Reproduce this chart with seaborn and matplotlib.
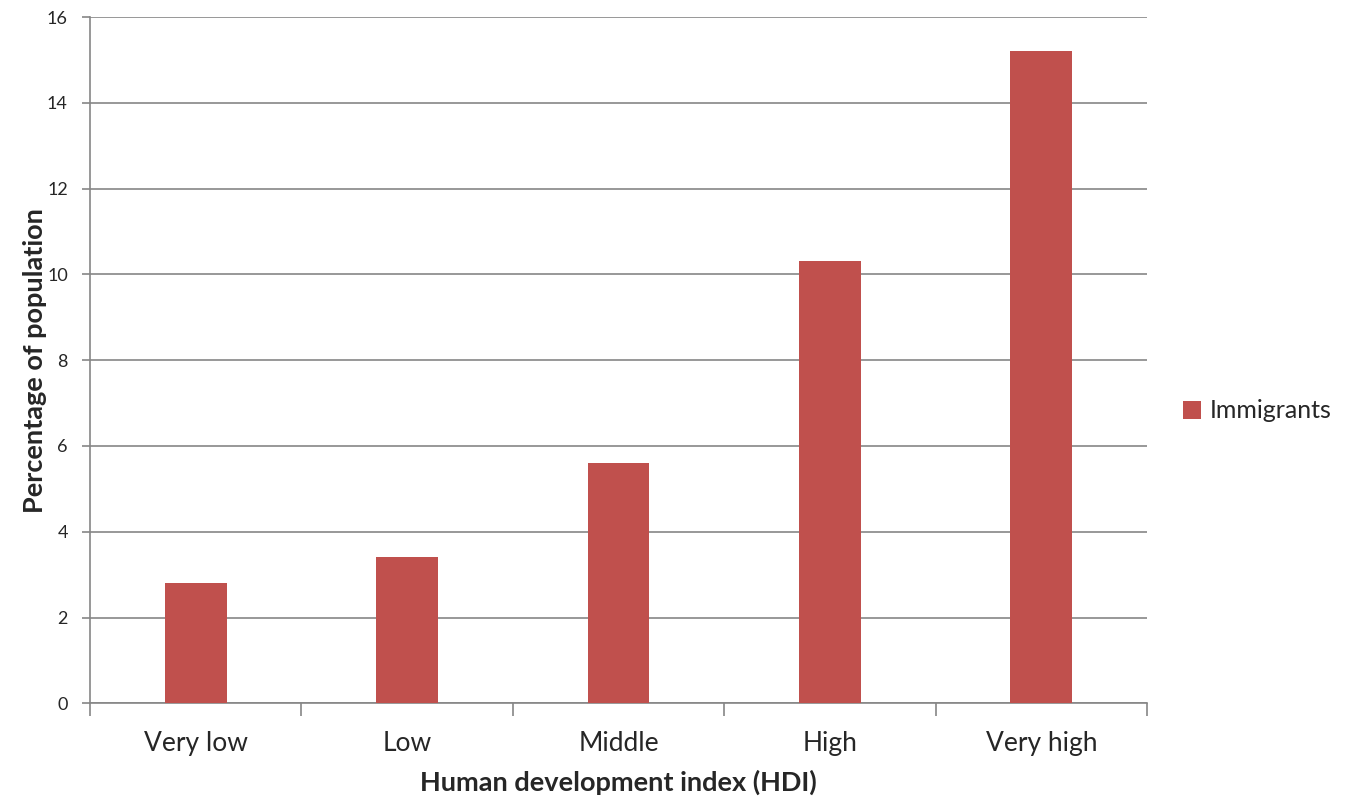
import matplotlib
matplotlib.use("Agg")
import matplotlib.pyplot as plt
import seaborn as sns
import pandas as pd

#Data
hdi_groups = ["Very low", "Low", "Middle", "High", "Very high"]
immigrants = [2.8, 3.4, 5.6, 10.3, 15.2]
y_ticks = [0, 2, 4, 6, 8, 10, 12, 14, 16]

df = pd.DataFrame({"HDI": hdi_groups, "Immigrants": immigrants})

sns.set_style("white")
plt.rcParams["font.family"] = ["Lato", "DejaVu Sans"]

W, H = 1348, 801
fig = plt.figure(figsize=(W / 100, H / 100), dpi=100)
ax = fig.add_axes([90 / W, (H - 703.3) / H, (1147 - 90) / W, (703.3 - 17) / H])

sns.barplot(data=df, x="HDI", y="Immigrants", color="#C0504D", width=0.293,
            saturation=1, ax=ax, linewidth=0, zorder=3)

grid_col = "#868686"
ax.set_ylim(0, 16)
ax.set_xlim(-0.5, 4.5)
ax.set_yticks(y_ticks)
ax.set_yticklabels([str(t) for t in y_ticks], fontsize=13)
ax.yaxis.grid(True, color=grid_col, linewidth=1.2, zorder=0)
ax.set_axisbelow(True)

#Excel style tick marks between categories
ax.set_xticks(range(len(hdi_groups)))
ax.set_xticklabels(hdi_groups, fontsize=19)
ax.tick_params(axis="x", which="major", length=0, pad=20)
ax.set_xticks([i - 0.5 for i in range(len(hdi_groups) + 1)], minor=True)
ax.tick_params(axis="x", which="minor", length=9, width=1.2, color=grid_col, direction="out", bottom=True)
ax.tick_params(axis="y", length=6, width=1.2, color=grid_col, direction="out", left=True, pad=10)

for s in ["top", "right"]:
    ax.spines[s].set_visible(False)
for s in ["left", "bottom"]:
    ax.spines[s].set_color(grid_col)
    ax.spines[s].set_linewidth(1.2)

ax.set_xlabel("Human development index (HDI)", fontsize=19.5, fontweight="bold", labelpad=10)
ax.set_ylabel("Percentage of population", fontsize=19.5, fontweight="bold", labelpad=0)

fig.legend(handles=ax.patches[:1], labels=["Immigrants"], loc="center left",
           bbox_to_anchor=(1183 / W, (H - 411) / H), frameon=False, fontsize=18,
           handlelength=0.7, handleheight=0.7, handletextpad=0.35, borderaxespad=0,
           borderpad=0)

fig.savefig("out.png", dpi=100)
